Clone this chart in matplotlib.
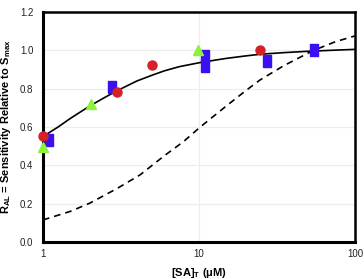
import matplotlib
matplotlib.use("Agg")
import matplotlib.pyplot as plt
from matplotlib.ticker import FixedLocator, NullLocator

plt.rcParams['font.family'] = ['Liberation Sans', 'DejaVu Sans']

# Data
red_x = [1.0, 2.98, 5.0, 24.8]
red_y = [0.553, 0.782, 0.923, 1.0]
blue_x = [1.09, 2.77, 11.0, 11.0, 27.4, 54.8]
blue_y = [0.53, 0.81, 0.97, 0.92, 0.944, 1.0]
green_x = [1.0, 2.02, 9.8]
green_y = [0.495, 0.72, 1.0]

fit_x = [1, 1.25, 1.5, 1.75, 2, 2.5, 3, 4, 5, 6, 7.5, 10, 12.5, 15, 20, 25, 35, 50, 70, 100]
fit_y = [0.55, 0.60, 0.645, 0.68, 0.71, 0.755, 0.79, 0.84, 0.87, 0.893, 0.915, 0.935, 0.948, 0.958, 0.971, 0.98, 0.988, 0.995, 1.0, 1.005]

dash_x = [1, 1.5, 2, 3, 4.19, 6, 7.94, 10.2, 15, 20, 24.6, 35, 53.7, 75, 100]
dash_y = [0.115, 0.16, 0.203, 0.28, 0.35, 0.45, 0.523, 0.60, 0.71, 0.79, 0.845, 0.92, 0.998, 1.045, 1.075]

yticks = [0.0, 0.2, 0.4, 0.6, 0.8, 1.0, 1.2]
xticks = [1, 10, 100]
xticklabels = ['1', '10', '100']

fig = plt.figure(figsize=(3.64, 2.79), dpi=100)
ax = fig.add_axes([0.118, 0.1326, 0.857, 0.8244])

ax.set_xscale('log')
ax.set_xlim(1, 100)
ax.set_ylim(0, 1.2)

for y in yticks[1:-1]:
    ax.axhline(y, color='#ececec', lw=0.8, zorder=0)
ax.axvline(10, color='#ececec', lw=0.8, zorder=0)

ax.plot(fit_x, fit_y, color='black', lw=1.2, zorder=2)
ax.plot(dash_x, dash_y, color='black', lw=1.2, ls=(0, (4, 3)), zorder=2)

rect = [(-0.33, -0.5), (0.33, -0.5), (0.33, 0.5), (-0.33, 0.5), (-0.33, -0.5)]
ax.plot(red_x, red_y, 'o', color='#d42027', ms=6.5, mec='#d42027', clip_on=False, zorder=4)
ax.plot(blue_x, blue_y, ls='none', marker=rect, color='#3a10f0', ms=8, clip_on=False, zorder=3)
ax.plot(green_x, green_y, '^', color='#8cf23c', ms=7.5, clip_on=False, zorder=5)

ax.xaxis.set_major_locator(FixedLocator(xticks))
ax.xaxis.set_minor_locator(NullLocator())
ax.set_xticklabels(xticklabels)
ax.set_yticks(yticks)
ax.set_yticklabels([f'{v:.1f}' for v in yticks])
ax.tick_params(axis='both', length=0, labelsize=7, colors='#222222')
ax.tick_params(axis='x', pad=5)
ax.tick_params(axis='y', pad=7)

for s in ['left', 'bottom']:
    ax.spines[s].set_linewidth(2.2)
for s in ['top', 'right']:
    ax.spines[s].set_linewidth(1.8)

ax.set_xlabel(r'[SA]$_\mathregular{T}$ ($\mathregular{\mu}$M)', fontsize=8, fontweight='bold', labelpad=5)
ax.set_ylabel(r'R$_\mathregular{AL}$ = Sensitivity Relative to S$_\mathregular{max}$', fontsize=8, fontweight='bold', labelpad=5)

fig.savefig('out.png', dpi=100)
